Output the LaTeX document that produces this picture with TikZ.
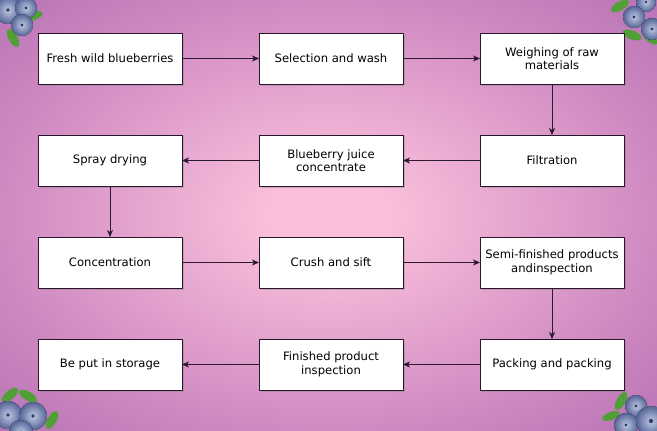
\documentclass[tikz,border=0pt]{standalone}
\usepackage{fontspec}
\setmainfont{DejaVu Sans}
\usetikzlibrary{positioning,shadows,arrows.meta}
\definecolor{bgpink}{RGB}{248,190,218}
\definecolor{bgmid}{RGB}{205,135,192}
\definecolor{bgpurple}{RGB}{150,85,165}
\definecolor{boxline}{RGB}{40,22,45}
\definecolor{arrowc}{RGB}{45,25,50}
\definecolor{berrylight}{RGB}{190,200,228}
\definecolor{berrydark}{RGB}{85,100,150}
\definecolor{leafc}{RGB}{80,160,55}
\pgfdeclareradialshading{bgshade}{\pgfpoint{0bp}{0bp}}{color(0bp)=(bgpink); color(5bp)=(bgpink); color(26bp)=(bgmid); color(50bp)=(bgpurple)}
\tikzset{
  stepbox/.style={draw=boxline, line width=0.8pt, fill=white, minimum width=144pt, minimum height=51pt,
    align=center, inner sep=2pt, outer sep=0pt, drop shadow={shadow xshift=1.5pt, shadow yshift=-1.5pt, opacity=0.35}},
  flow/.style={->, draw=arrowc, line width=0.8pt},
  berry/.style={inner color=berrylight, outer color=berrydark},
  leaf/.style={fill=leafc}
}
\newcommand{\blueberry}[3]{%
  \fill[berry] (#1,#2) circle (#3);
  \fill[berrydark!60!black] (#1,#2) circle (0.14*#3);}
\newcommand{\leafat}[4]{%
  \fill[leaf, rotate around={#3:(#1,#2)}] (#1,#2) ellipse (#4 and 0.45*#4);}
\begin{document}
\begin{tikzpicture}[x=1pt, y=1pt, font=\fontsize{11.6}{13.5}\selectfont, line join=round,
  >={Stealth[length=7pt, width=6pt, inset=2pt]}]
  \useasboundingbox (0,0) rectangle (657,-431);
  \shade[shading=bgshade] (0,0) rectangle (657,-431);
  % corner berries
  \begin{scope}
    \clip (0,0) rectangle (657,-431);
    \leafat{13}{-38}{-60}{10}
    \leafat{34}{-16}{20}{9}
    \blueberry{8}{-10}{14}
    \blueberry{26}{-8}{11}
    \blueberry{22}{-25}{11}
    \leafat{620}{-6}{30}{10}
    \leafat{632}{-35}{-20}{10}
    \leafat{650}{-38}{-40}{9}
    \blueberry{646}{-2}{10}
    \blueberry{634}{-17}{11}
    \blueberry{652}{-29}{11}
    \leafat{10}{-395}{40}{10}
    \leafat{28}{-396}{-30}{10}
    \leafat{52}{-420}{60}{10}
    \blueberry{8}{-415}{14}
    \blueberry{33}{-416}{14}
    \blueberry{21}{-432}{12}
    \leafat{621}{-401}{60}{10}
    \leafat{611}{-416}{20}{9}
    \blueberry{636}{-406}{11}
    \blueberry{626}{-425}{12}
    \blueberry{651}{-421}{15}
  \end{scope}
  % process steps
  \node[stepbox] (fresh) at (110,-58.5) {Fresh wild blueberries};
  \node[stepbox, right=77pt of fresh] (select) {Selection and wash};
  \node[stepbox, right=77pt of select] (weigh) {Weighing of raw\\materials};
  \node[stepbox, below=51pt of weigh] (filter) {Filtration};
  \node[stepbox, left=77pt of filter] (juice) {Blueberry juice\\concentrate};
  \node[stepbox, left=77pt of juice] (spray) {Spray drying};
  \node[stepbox, below=51pt of spray] (conc) {Concentration};
  \node[stepbox, right=77pt of conc] (crush) {Crush and sift};
  \node[stepbox, right=77pt of crush] (semi) {Semi-finished products\\andinspection};
  \node[stepbox, below=51pt of semi] (pack) {Packing and packing};
  \node[stepbox, left=77pt of pack] (final) {Finished product\\inspection};
  \node[stepbox, left=77pt of final] (store) {Be put in storage};
  % arrows
  \draw[flow] (fresh) -- (select);
  \draw[flow] (select) -- (weigh);
  \draw[flow] (weigh) -- (filter);
  \draw[flow] (filter) -- (juice);
  \draw[flow] (juice) -- (spray);
  \draw[flow] (spray) -- (conc);
  \draw[flow] (conc) -- (crush);
  \draw[flow] (crush) -- (semi);
  \draw[flow] (semi) -- (pack);
  \draw[flow] (pack) -- (final);
  \draw[flow] (final) -- (store);
\end{tikzpicture}
\end{document}
